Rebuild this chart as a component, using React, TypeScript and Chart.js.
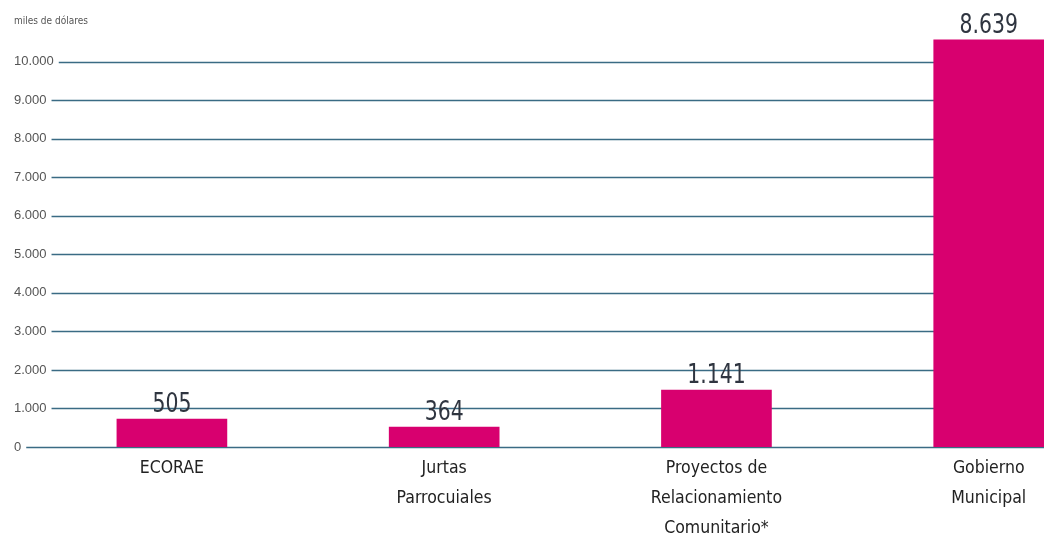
import React, { useEffect, useRef } from "react";
import { Chart, registerables } from "chart.js";

Chart.register(...registerables);

const categories: string[][] = [
  ["ECORAE"],
  ["Jurtas", "Parrocuiales"],
  ["Proyectos de", "Relacionamiento", "Comunitario*"],
  ["Gobierno", "Municipal"],
];
// bar heights as drawn in the picture (in the axis units)
const barHeights = [725, 520, 1480, 10570];
// values printed above the bars
const valueLabels = ["505", "364", "1.141", "8.639"];
const yTicks = [0, 1000, 2000, 3000, 4000, 5000, 6000, 7000, 8000, 9000, 10000];
const yTickLabels = ["0", "1.000", "2.000", "3.000", "4.000", "5.000", "6.000", "7.000", "8.000", "9.000", "10.000"];
const axisTitle = "miles de dólares";

const NARROW = "'Liberation Sans Narrow', 'DejaVu Sans Condensed', 'Arial Narrow', sans-serif";
const REGULAR = "'Liberation Sans', Arial, sans-serif";
const BAR_COLOR = "#d8006f";
const GRID_COLOR = "#3a6b84";

export default function App() {
  const ref = useRef<HTMLCanvasElement | null>(null);

  useEffect(() => {
    const canvas = ref.current;
    if (!canvas) return;

    const gridPlugin = {
      id: "gridAfterLabels",
      beforeDatasetsDraw(chart: any) {
        const ctx = chart.ctx;
        const ys = chart.scales.y;
        const area = chart.chartArea;
        ctx.save();
        ctx.font = `13px ${REGULAR}`;
        ctx.strokeStyle = GRID_COLOR;
        ctx.lineWidth = 1.6;
        ys.ticks.forEach((t: any) => {
          const label = String(t.label ?? "");
          const w = ctx.measureText(label).width;
          const y = Math.round(ys.getPixelForValue(t.value)) + 0.5;
          ctx.beginPath();
          ctx.moveTo(ys.left + w + 5, y);
          ctx.lineTo(area.right, y);
          ctx.stroke();
        });
        ctx.restore();
      },
    };

    const valuePlugin = {
      id: "valueLabels",
      afterDatasetsDraw(chart: any) {
        const ctx = chart.ctx;
        const meta = chart.getDatasetMeta(0);
        ctx.save();
        ctx.font = `27px ${NARROW}`;
        ctx.fillStyle = "#2f3540";
        ctx.textAlign = "center";
        ctx.textBaseline = "alphabetic";
        meta.data.forEach((bar: any, i: number) => {
          ctx.save();
          ctx.translate(bar.x, bar.y - 7);
          ctx.scale(0.84, 1);
          ctx.fillText(valueLabels[i], 0, 0);
          ctx.restore();
        });
        ctx.restore();
      },
    };

    const bgPlugin = {
      id: "bg",
      beforeDraw(chart: any) {
        const ctx = chart.ctx;
        ctx.save();
        ctx.fillStyle = "#ffffff";
        ctx.fillRect(0, 0, chart.width, chart.height);
        ctx.restore();
      },
    };

    const chart = new Chart(canvas, {
      type: "bar",
      data: {
        datasets: [
          {
            data: barHeights.map((y, i) => ({ x: i, y })),
            backgroundColor: BAR_COLOR,
            borderWidth: 0,
            barThickness: 110,
          },
        ],
      },
      options: {
        responsive: false,
        animation: false,
        layout: { padding: { left: 14, right: 4, top: 0, bottom: 0 } },
        plugins: {
          legend: { display: false },
          tooltip: { enabled: false },
          title: {
            display: true,
            text: axisTitle,
            align: "start",
            color: "#555555",
            font: { family: NARROW, size: 10, weight: "normal" },
            padding: { top: 15, bottom: 0 },
          },
        },
        scales: {
          x: {
            type: "linear",
            min: -0.411,
            max: 3.203,
            offset: false,
            grid: { display: false, drawTicks: false },
            border: { display: false },
            afterBuildTicks: (scale: any) => {
              scale.ticks = categories.map((_, i) => ({ value: i }));
            },
            afterFit: (scale: any) => {
              scale.height = 96;
            },
            ticks: {
              autoSkip: false,
              maxRotation: 0,
              minRotation: 0,
              padding: 6,
              color: "#222222",
              font: { family: NARROW, size: 17.5, lineHeight: "30px" },
              callback: (v: any) => categories[Number(v)] ?? "",
            },
          },
          y: {
            type: "linear",
            min: 0,
            max: 10900,
            grid: { display: false, drawTicks: false },
            border: { display: false },
            afterBuildTicks: (scale: any) => {
              scale.ticks = yTicks.map((v) => ({ value: v }));
            },
            afterFit: (scale: any) => {
              scale.width = 46;
            },
            ticks: {
              crossAlign: "far",
              padding: 0,
              color: "#555555",
              font: { family: REGULAR, size: 13 },
              callback: (v: any) => yTickLabels[yTicks.indexOf(Number(v))] ?? "",
            },
          },
        },
      },
      plugins: [bgPlugin, gridPlugin, valuePlugin],
    } as any);

    return () => chart.destroy();
  }, []);

  return (
    <div style={{ position: "absolute", left: 0, top: 0, width: 1048, height: 543, background: "#fff" }}>
      <canvas ref={ref} width={1048} height={543} />
    </div>
  );
}
